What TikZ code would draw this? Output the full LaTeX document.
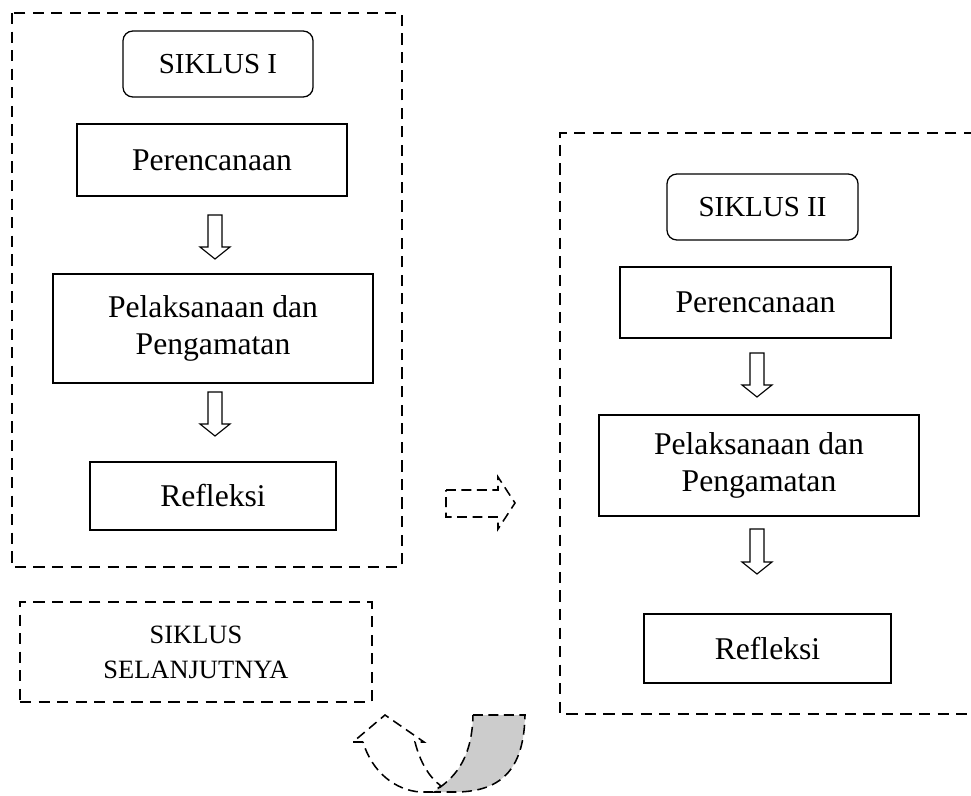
\documentclass[tikz,border=0pt]{standalone}
\usepackage{fontspec}
\setmainfont{Liberation Serif}
\usetikzlibrary{calc}
\tikzset{
	box/.style={draw, line width=0.9pt, inner sep=0pt, align=center, font=\fontsize{22.5}{26.3}\selectfont},
	titlebox/.style={box, rounded corners=7pt, font=\fontsize{20.6}{24}\selectfont},
	cyclebox/.style={draw, line width=1.9pt, dash pattern=on 8pt off 5.2pt},
	hollowarrow/.style={draw, line width=0.8pt, fill=white},
	dasharrow/.style={draw, line width=1.1pt, dash pattern=on 7pt off 4pt, fill=white},
}
\def\hollowdown(#1)(#2){\draw[hollowarrow] (#1) ++(-7,0) -- ++(0,#2) -- ++(-8,0) -- ++(15,12) -- ++(15,-12) -- ++(-8,0) -- ++(0,-#2) -- cycle;}

\begin{document}
\begin{tikzpicture}[x=0.025cm, y=-0.025cm]
			%%%%% START %%%%%
			\useasboundingbox (0,0) rectangle (971,795);
			\clip (0,0) rectangle (971,795);
			
			\draw[cyclebox] (12,13) rectangle (402,567);
			\draw[cyclebox] (975,133) -- (560,133) -- (560,714) -- (975,714);
			\node[cyclebox, minimum width=8.8cm, minimum height=2.5cm, align=center, font=\fontsize{18.8}{25}\selectfont] (next) at (196,652) {SIKLUS\\SELANJUTNYA};
			
			\node[titlebox, minimum width=4.75cm, minimum height=1.65cm] (sik1) at (218,64) {SIKLUS I};
			\node[box, minimum width=6.75cm, minimum height=1.8cm] (ren1) at (212,160) {Perencanaan};
			\node[box, minimum width=8cm, minimum height=2.725cm] (pel1) at (213,328.5) {Pelaksanaan dan\\Pengamatan};
			\node[box, minimum width=6.15cm, minimum height=1.7cm] (ref1) at (213,496) {Refleksi};
			
			\coordinate (a1) at (215,215); \hollowdown(a1)(32)
			\coordinate (a2) at (215,392); \hollowdown(a2)(32)
			
			\node[titlebox, minimum width=4.775cm, minimum height=1.65cm] (sik2) at (762.5,207) {SIKLUS II};
			\node[box, minimum width=6.775cm, minimum height=1.775cm] (ren2) at (755.5,302.5) {Perencanaan};
			\node[box, minimum width=8cm, minimum height=2.525cm] (pel2) at (759,465.5) {Pelaksanaan dan\\Pengamatan};
			\node[box, minimum width=6.175cm, minimum height=1.725cm] (ref2) at (767.5,648.5) {Refleksi};
			
			\coordinate (a3) at (757,353); \hollowdown(a3)(32)
			\coordinate (a4) at (757,529); \hollowdown(a4)(33)
			
			\coordinate (go) at (446,490);
			\draw[dasharrow] (go) -- ++(52,0) -- ++(0,-13) -- ++(17,26) -- ++(-17,26) -- ++(0,-12) -- ++(-52,0) -- cycle;
			
			\draw[dasharrow, fill=black!20] (473,715) -- (525,715) .. controls (524,765) and (505,792) .. (455,792) -- (433,792) .. controls (452,780) and (472,762) .. (473,715) -- cycle;
			\draw[dasharrow] (363,742) -- (353,742) -- (385,715) -- (424,742) -- (415,742) .. controls (420,762) and (429,777) .. (441,786) -- (433,792) -- (420,792) .. controls (395,790) and (372,772) .. (363,742) -- cycle;
			%%%%% END %%%%%
\end{tikzpicture}
\end{document}
